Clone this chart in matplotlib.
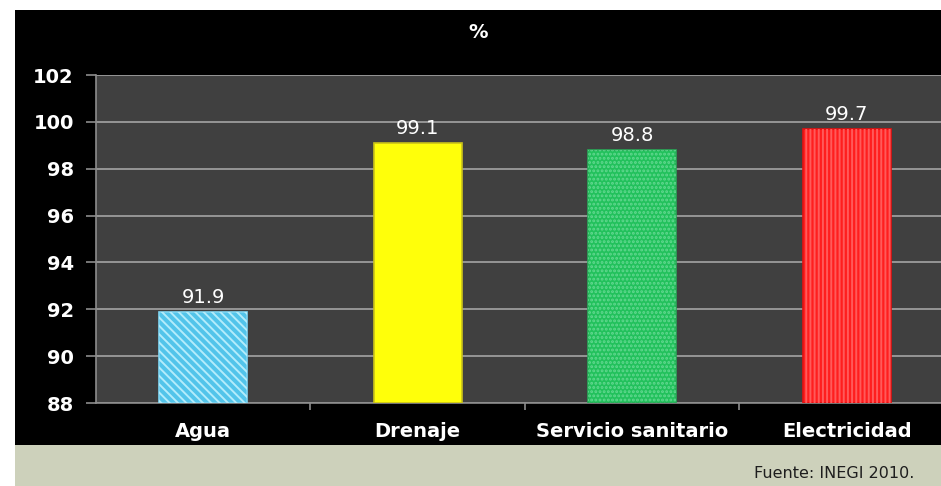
import matplotlib.pyplot as plt
from matplotlib.patches import Rectangle
import numpy as np

#----Data----

categories = ["Agua", "Drenaje", "Servicio sanitario", "Electricidad"]
values = [91.9, 99.1, 98.8, 99.7]
y_ticks = [88, 90, 92, 94, 96, 98, 100, 102]

base_colors = ["#52c4ea", "#ffff0a", "#22c15c", "#ff1e1e"]
edge_colors = ["#7fd6f2", "#c9c21a", "#2aa858", "#e01010"]
hatch_colors = ["#b4ecfb", "#ffff0a", "#62d890", "#ff5a5a"]
hatches = ["\\\\\\\\", "", "....", "||||"]

#----Figure----

fig = plt.figure(figsize=(9.41, 4.86), dpi=100, facecolor="white")
fig.patches.append(Rectangle((15 / 941, 41 / 486), 1 - 15 / 941, 435 / 486,
                             transform=fig.transFigure, facecolor="black", zorder=-5))
fig.patches.append(Rectangle((15 / 941, 0), 1 - 15 / 941, 41 / 486,
                             transform=fig.transFigure, facecolor="#cdd1bb", zorder=-5))

ax = fig.add_axes([96 / 941, 83 / 486, 1 - 96 / 941, 328 / 486])
ax.set_facecolor("#404040")

x = np.arange(len(categories))
plt.rcParams["hatch.linewidth"] = 1.4

for i in range(len(categories)):
    ax.bar(x[i], values[i] - 88, bottom=88, width=0.41, color=base_colors[i],
           edgecolor=edge_colors[i], linewidth=1.2, zorder=3)
    if hatches[i]:
        ax.bar(x[i], values[i] - 88, bottom=88, width=0.41, facecolor="none",
               edgecolor=hatch_colors[i], hatch=hatches[i], linewidth=0, zorder=4)
    ax.text(x[i], values[i] + 0.2, f"{values[i]:.1f}", ha="center", va="bottom",
            color="white", fontsize=14, zorder=5)

ax.set_ylim(88, 102)
ax.set_yticks(y_ticks)
ax.set_xlim(-0.5, 3.44)
ax.set_xticks(x)
ax.set_xticklabels(categories)
ax.set_xticks([0.5, 1.5, 2.5], minor=True)

ax.yaxis.grid(True, color="#9c9c9c", linewidth=1.3, zorder=1)
ax.set_axisbelow(True)

for side in ["top", "right"]:
    ax.spines[side].set_visible(False)
ax.spines["left"].set_color("#8c8c8c")
ax.spines["bottom"].set_color("#8c8c8c")
ax.spines["left"].set_linewidth(1.2)
ax.spines["bottom"].set_linewidth(1.2)

ax.tick_params(axis="y", colors="#8c8c8c", length=7, width=1.2, labelcolor="white",
               labelsize=14, pad=9)
ax.tick_params(axis="x", which="major", length=0, labelcolor="white", labelsize=14, pad=14)
ax.tick_params(axis="x", which="minor", length=5, width=1.2, colors="#8c8c8c")
for lbl in ax.get_yticklabels() + ax.get_xticklabels():
    lbl.set_fontweight("bold")

fig.text(478 / 941, 1 - 32 / 486, "%", ha="center", va="center", color="white",
         fontsize=14, fontweight="bold")
fig.text(914 / 941, 1 - 473 / 486, "Fuente: INEGI 2010.", ha="right", va="center",
         color="#1e1e1e", fontsize=11.5)

plt.savefig("out.png", dpi=100, facecolor="white")
